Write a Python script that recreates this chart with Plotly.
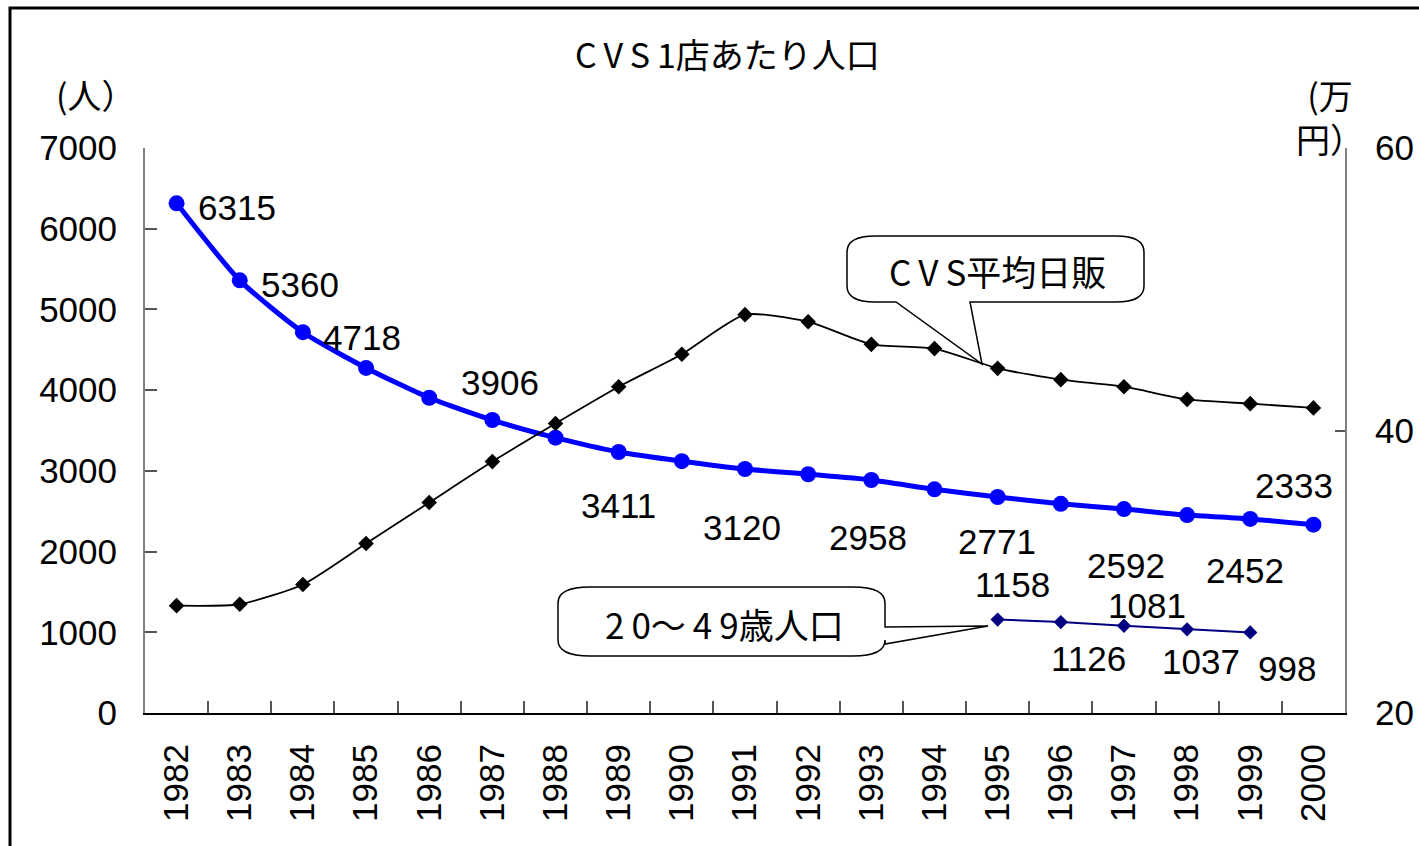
import plotly.graph_objects as go

# ---------------- data ----------------
years = list(range(1982, 2001))
pop_per_store = [6315, 5360, 4718, 4275, 3906, 3630, 3411, 3234, 3120, 3023,
                 2958, 2887, 2771, 2676, 2592, 2527, 2452, 2404, 2333]
avg_daily_sales = [27.6, 27.7, 29.1, 32.0, 34.9, 37.8, 40.5, 43.1, 45.4, 48.2,
                   47.7, 46.1, 45.8, 44.4, 43.6, 43.1, 42.2, 41.9, 41.6]
age_years = [1995, 1996, 1997, 1998, 1999]
pop_20_49 = [1158, 1126, 1081, 1037, 998]

# which points carry a value label, and label offsets (px)
blue_label_years = [1982, 1983, 1984, 1986, 1988, 1990, 1992, 1994, 1996, 1998, 2000]
blue_label_shift = [(60, -4), (60, -4), (59, -5), (71, 15), (63, -68), (60, -66),
                    (60, -63), (63, -52), (65, -62), (58, -55), (-19, 39)]
navy_label_shift = [(15, 35), (28, -36), (23, 20), (14, -32), (37, -36)]

title_text = "C\u2009V\u2009S\u20091店あたり人口"
sales_label = "C\u2009V\u2009S平均日販"
age_label = "2\u20090～\u20094\u20099歳人口"
left_unit = "(人）"
right_unit = "(万<br>円）"

NUM_FONT = "Liberation Sans, Arial, Noto Sans CJK JP, sans-serif"
JP_FONT = "Noto Sans CJK JP, sans-serif"
FS = 35

# plot area in pixels
L, R, T, B = 145, 1345, 148, 713
W, H = 1419, 846


def px(x):
    return (x - L) / (R - L)


def py(y):
    return (B - y) / (B - T)


fig = go.Figure()

fig.add_trace(go.Scatter(
    x=years, y=pop_per_store, mode="lines+markers",
    line=dict(color="#0000FF", width=5, shape="spline", smoothing=0.6),
    marker=dict(symbol="circle", size=16, color="#0000FF"),
    yaxis="y", showlegend=False, hoverinfo="skip"))

fig.add_trace(go.Scatter(
    x=age_years, y=pop_20_49, mode="lines+markers",
    line=dict(color="#000080", width=2),
    marker=dict(symbol="diamond", size=11, color="#000080"),
    yaxis="y", showlegend=False, hoverinfo="skip"))

fig.add_trace(go.Scatter(
    x=years, y=avg_daily_sales, mode="lines+markers",
    line=dict(color="#000000", width=1.8, shape="spline", smoothing=0.6),
    marker=dict(symbol="diamond", size=12, color="#000000"),
    yaxis="y2", showlegend=False, hoverinfo="skip"))

annotations = []
# value labels for the blue series
for yr, (dx, dy) in zip(blue_label_years, blue_label_shift):
    v = pop_per_store[years.index(yr)]
    annotations.append(dict(x=yr, y=v, xref="x", yref="y", text=str(v),
                            showarrow=False, xshift=dx, yshift=dy,
                            font=dict(family=NUM_FONT, size=FS, color="black")))
# value labels for the navy series
for yr, v, (dx, dy) in zip(age_years, pop_20_49, navy_label_shift):
    annotations.append(dict(x=yr, y=v, xref="x", yref="y", text=str(v),
                            showarrow=False, xshift=dx, yshift=dy,
                            font=dict(family=NUM_FONT, size=FS, color="black")))

# title and axis unit labels
annotations.append(dict(x=px(727), y=py(54), xref="paper", yref="paper",
                        text=title_text, showarrow=False,
                        xanchor="center", yanchor="middle",
                        font=dict(family=JP_FONT, size=34, color="black")))
annotations.append(dict(x=px(96), y=py(94), xref="paper", yref="paper",
                        text=left_unit, showarrow=False,
                        xanchor="center", yanchor="middle",
                        font=dict(family=JP_FONT, size=34, color="black")))
annotations.append(dict(x=px(1330), y=py(117), xref="paper", yref="paper",
                        text=right_unit, showarrow=False, align="center",
                        xanchor="center", yanchor="middle",
                        font=dict(family=JP_FONT, size=34, color="black")))

# callout texts
annotations.append(dict(x=px(997), y=py(270), xref="paper", yref="paper",
                        text=sales_label, showarrow=False,
                        xanchor="center", yanchor="middle",
                        font=dict(family=JP_FONT, size=35, color="black")))
annotations.append(dict(x=px(724), y=py(623), xref="paper", yref="paper",
                        text=age_label, showarrow=False,
                        xanchor="center", yanchor="middle",
                        font=dict(family=JP_FONT, size=35, color="black")))


def path_from(points_cmds):
    out = []
    for cmd, *pts in points_cmds:
        coords = " ".join(f"{px(a):.5f},{py(b):.5f}" for a, b in pts)
        out.append(f"{cmd} {coords}" if coords else cmd)
    return " ".join(out)


# callout 1: CVS平均日販
cl, ct, cr, cb, rx, ry = 847, 236, 1144, 302, 28, 16
p1 = path_from([
    ("M", (cl + rx, ct)), ("L", (cr - rx, ct)), ("Q", (cr, ct), (cr, ct + ry)),
    ("L", (cr, cb - ry)), ("Q", (cr, cb), (cr - rx, cb)),
    ("L", (970, cb)), ("L", (982, 364)), ("L", (896, cb)),
    ("L", (cl + rx, cb)), ("Q", (cl, cb), (cl, cb - ry)),
    ("L", (cl, ct + ry)), ("Q", (cl, ct), (cl + rx, ct)), ("Z",)])

# callout 2: 20～49歳人口
dl, dt, dr, db, rx2, ry2 = 558, 587, 885, 656, 32, 16
p2 = path_from([
    ("M", (dl + rx2, dt)), ("L", (dr - rx2, dt)), ("Q", (dr, dt), (dr, dt + ry2)),
    ("L", (dr, 627)), ("L", (988, 626)), ("L", (dr, 644)),
    ("L", (dr, db - ry2)), ("Q", (dr, db), (dr - rx2, db)),
    ("L", (dl + rx2, db)), ("Q", (dl, db), (dl, db - ry2)),
    ("L", (dl, dt + ry2)), ("Q", (dl, dt), (dl + rx2, dt)), ("Z",)])

shapes = [
    dict(type="path", xref="paper", yref="paper", path=p1,
         fillcolor="white", line=dict(color="black", width=1.5), layer="above"),
    dict(type="path", xref="paper", yref="paper", path=p2,
         fillcolor="white", line=dict(color="black", width=1.5), layer="above"),
    # outer frame of the chart
    dict(type="rect", xref="paper", yref="paper",
         x0=px(10), y0=py(860), x1=px(1440), y1=py(8),
         line=dict(color="black", width=3), fillcolor="rgba(0,0,0,0)",
         layer="above"),
]

fig.update_layout(
    width=W, height=H, autosize=False,
    margin=dict(l=L, r=W - R, t=T, b=H - B, pad=0),
    paper_bgcolor="white", plot_bgcolor="white",
    showlegend=False,
    annotations=annotations, shapes=shapes,
    xaxis=dict(
        range=[years[0] - 0.5, years[-1] + 0.5], tickmode="array",
        tickvals=years, ticktext=[str(y) for y in years],
        tickangle=-90, ticks="", showgrid=False, zeroline=False,
        showline=True, linecolor="black", linewidth=2,
        tickfont=dict(family=NUM_FONT, size=FS, color="black"),
        ticklabelstandoff=15, automargin=False,
        minor=dict(tickmode="array", tickvals=[y + 0.5 for y in years[:-1]],
                   ticks="inside", ticklen=12, tickcolor="#555555",
                   tickwidth=1.5, showgrid=False)),
    yaxis=dict(
        range=[0, 7000], dtick=1000, tick0=0, ticks="inside", ticklen=12,
        tickcolor="#555555", tickwidth=1.5, showgrid=False, zeroline=False,
        showline=True, linecolor="#808080", linewidth=2,
        tickfont=dict(family=NUM_FONT, size=FS, color="black"),
        ticklabelstandoff=19, automargin=False),
    yaxis2=dict(
        range=[20, 60], dtick=20, tick0=20, ticks="inside", ticklen=10,
        tickcolor="#555555", tickwidth=1.5, showgrid=False, zeroline=False,
        showline=True, linecolor="#808080", linewidth=2,
        overlaying="y", side="right", anchor="x",
        tickfont=dict(family=NUM_FONT, size=FS, color="black"),
        ticklabelstandoff=21, automargin=False),
)

fig.write_html("out.html",
               config={"displayModeBar": False},
               post_script="document.body.style.margin='0';"
                           "document.body.style.overflow='hidden';")
